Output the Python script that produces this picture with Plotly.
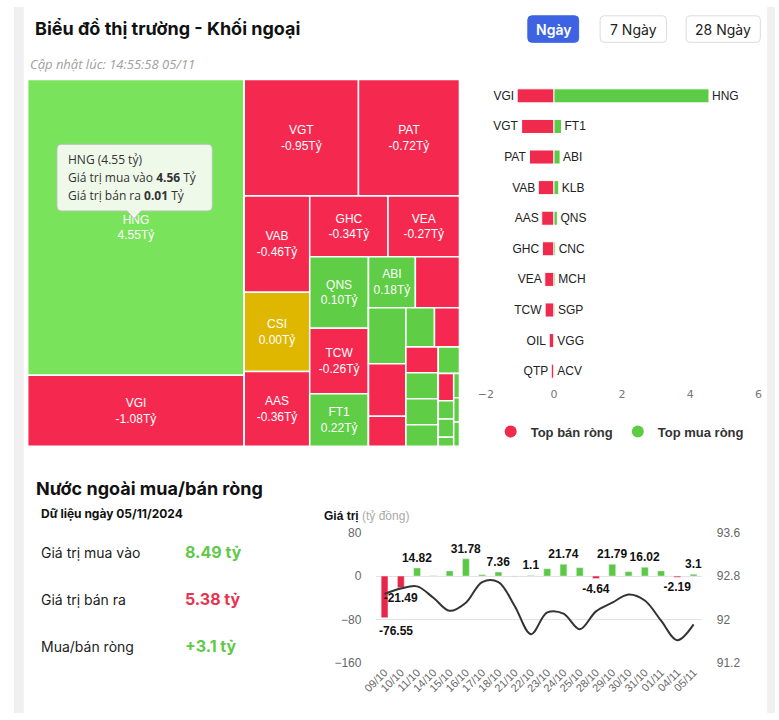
import plotly.graph_objects as go

W, H = 779, 720
def fx(p): return p / W
def fy(p): return 1 - p / H

# ---------------- data: treemap (size = traded value, net = net value) ----------------
tm_codes = ["HNG", "VGI", "VGT", "PAT", "VAB", "CSI", "AAS", "GHC", "VEA", "QNS", "TCW", "FT1", "ABI",
            "OIL", "KLB", "QTP", "Khác 1", "CNC", "Khác 2", "Khác 3", "MCH", "SGP", "VGG", "ACV",
            "Khác 4", "Khác 5", "Khác 6", "Khác 7", "Khác 8", "Khác 9", "Khác 10"]
tm_size = [4.57, 1.10, 0.95, 0.84, 0.45, 0.37, 0.35, 0.34, 0.31, 0.30, 0.275, 0.22, 0.17,
           0.16, 0.15, 0.14, 0.08, 0.08, 0.07, 0.06, 0.06, 0.06, 0.05, 0.04,
           0.03, 0.02, 0.02, 0.01, 0.01, 0.01, 0.01]
tm_net = [4.55, -1.08, -0.95, -0.72, -0.46, 0.00, -0.36, -0.34, -0.27, 0.10, -0.26, 0.22, 0.18,
          -0.14, 0.14, -0.08, -0.05, 0.05, -0.04, -0.03, 0.04, 0.03, 0.02, 0.01,
          -0.02, 0.01, 0.01, 0.01, 0.01, 0.01, 0.01]
# strip (alternating squarified row) each cell belongs to
tm_strip = [1, 1, 2, 2, 3, 3, 3, 4, 4, 5, 5, 5, 6,
            6, 7, 7, 7, 8, 8, 9, 9, 9, 9, 10,
            11, 11, 11, 11, 12, 12, 12]
tm_labeled = ["HNG", "VGI", "VGT", "PAT", "VAB", "CSI", "AAS", "GHC", "VEA", "QNS", "TCW", "FT1", "ABI"]

# ---------------- data: top buy / sell ----------------
sellers = ["VGI", "VGT", "PAT", "VAB", "AAS", "GHC", "VEA", "TCW", "OIL", "QTP"]
sell_vals = [-1.08, -0.95, -0.72, -0.46, -0.36, -0.34, -0.27, -0.26, -0.14, -0.08]
buyers = ["HNG", "FT1", "ABI", "KLB", "QNS", "CNC", "MCH", "SGP", "VGG", "ACV"]
buy_vals = [4.55, 0.22, 0.18, 0.14, 0.10, 0.05, 0.04, 0.03, 0.01, 0.01]

# ---------------- data: history ----------------
dates = ["09/10", "10/10", "11/10", "14/10", "15/10", "16/10", "17/10", "18/10", "21/10", "22/10",
         "23/10", "24/10", "25/10", "28/10", "29/10", "30/10", "31/10", "01/11", "04/11", "05/11"]
net_vals = [-76.55, -21.49, 14.82, 0.4, 9.5, 31.78, 2.5, 7.36, -0.5, 1.1,
            13.5, 21.74, 15.5, -4.64, 21.79, 8.0, 16.02, 9.5, -2.19, 3.1]
net_labels = ["-76.55", "-21.49", "14.82", "", "", "31.78", "", "7.36", "", "1.1",
              "", "21.74", "", "-4.64", "21.79", "", "16.02", "", "-2.19", "3.1"]
index_vals = [92.47, 92.57, 92.61, 92.40, 92.16, 92.31, 92.69, 92.69, 92.25, 91.73,
              92.13, 92.11, 91.82, 92.15, 92.31, 92.46, 92.35, 91.98, 91.62, 91.91]
left_ticks = [-160, -80, 0, 80]
right_ticks = [91.2, 92, 92.8, 93.6]
right_ticktext = ["91.2", "92", "92.8", "93.6"]

GREEN = "#5fcd45"
GREEN_BIG = "#7ae35c"
RED = "#f5294f"
YELLOW = "#e0b700"

def tm_color(v):
    if v > 1:
        return GREEN_BIG
    if v > 0:
        return GREEN
    if v < 0:
        return RED
    return YELLOW

# hierarchy of alternating strips (reproduces the alternating squarified layout)
n_strips = max(tm_strip)
h_ids, h_labels, h_parents, h_values, h_colors, h_text = ["root"], [""], [""], [0], ["white"], [""]
for k in range(1, n_strips):
    par = "root" if k == 1 else f"r{k - 1}"
    for cid in (f"g{k}", f"r{k}"):
        h_ids.append(cid); h_labels.append(""); h_parents.append(par)
        h_values.append(0); h_colors.append("white"); h_text.append("")
for code, size, net, strip in zip(tm_codes, tm_size, tm_net, tm_strip):
    h_ids.append(code); h_labels.append(code)
    h_parents.append(f"g{strip}" if strip < n_strips else f"r{n_strips - 1}")
    h_values.append(size); h_colors.append(tm_color(net))
    h_text.append(f"{code}<br>{net:.2f}Tỷ" if code in tm_labeled else "")

fig = go.Figure()

fig.add_trace(go.Treemap(
    ids=h_ids, labels=h_labels, parents=h_parents, values=h_values, branchvalues="remainder",
    text=h_text, texttemplate="%{text}", textposition="middle center",
    textfont=dict(family="Liberation Sans", size=12, color="white"),
    marker=dict(colors=h_colors, line=dict(color="white", width=1.5),
                pad=dict(t=0, l=0, r=0, b=0)),
    tiling=dict(packing="slice-dice", pad=0),
    pathbar=dict(visible=False), sort=False, hoverinfo="skip",
    domain=dict(x=[fx(14), fx(456)], y=[fy(448), fy(74)]),
))

rows = [f"{s}/{b}" for s, b in zip(sellers, buyers)]
fig.add_trace(go.Bar(
    y=rows, x=sell_vals, orientation="h", xaxis="x", yaxis="y", width=0.46,
    marker=dict(color="#f02a4c", line=dict(color="white", width=1)),
    text=sellers, textposition="outside", cliponaxis=False, constraintext="none",
    textfont=dict(family="Liberation Sans", size=12, color="#222"), showlegend=False, hoverinfo="skip"))
fig.add_trace(go.Bar(
    y=rows, x=buy_vals, orientation="h", xaxis="x", yaxis="y", width=0.46,
    marker=dict(color="#5ccc46", line=dict(color="white", width=1)),
    text=buyers, textposition="outside", cliponaxis=False, constraintext="none",
    textfont=dict(family="Liberation Sans", size=12, color="#222"), showlegend=False, hoverinfo="skip"))
fig.add_trace(go.Scatter(x=[None], y=[None], xaxis="x", yaxis="y", mode="markers",
                         marker=dict(symbol="circle", size=13, color="#f02a4c"), name="Top bán ròng"))
fig.add_trace(go.Scatter(x=[None], y=[None], xaxis="x", yaxis="y", mode="markers",
                         marker=dict(symbol="circle", size=13, color="#5ccc46"), name="Top mua ròng"))

# the first label is pushed inside the plot area (justified), so it is drawn as an annotation
bar_text = ["" if i == 0 else lab for i, lab in enumerate(net_labels)]
bar_colors = ["#5bc943" if v >= 0 else "#e8264a" for v in net_vals]
fig.add_trace(go.Bar(
    x=dates, y=net_vals, xaxis="x3", yaxis="y3", width=0.42,
    marker=dict(color=bar_colors), text=bar_text, textposition="outside", cliponaxis=False,
    constraintext="none", textangle=0,
    textfont=dict(family="Liberation Sans", size=12, color="#111", weight="bold"),
    showlegend=False, hoverinfo="skip"))
fig.add_trace(go.Scatter(
    x=dates, y=index_vals, xaxis="x3", yaxis="y4", mode="lines",
    line=dict(color="#333333", width=2, shape="spline", smoothing=1.0),
    showlegend=False, hoverinfo="skip"))

# ---------------- decorations ----------------
def rrect(x0, y0, x1, y1, r, pointer=None):
    X = lambda v: f"{v / W:.5f}"
    Y = lambda v: f"{1 - v / H:.5f}"
    p = f"M {X(x0 + r)},{Y(y0)} L {X(x1 - r)},{Y(y0)} Q {X(x1)},{Y(y0)} {X(x1)},{Y(y0 + r)} "
    p += f"L {X(x1)},{Y(y1 - r)} Q {X(x1)},{Y(y1)} {X(x1 - r)},{Y(y1)} "
    if pointer is not None:
        p += f"L {X(pointer + 7)},{Y(y1)} L {X(pointer)},{Y(y1 + 8)} L {X(pointer - 7)},{Y(y1)} "
    p += f"L {X(x0 + r)},{Y(y1)} Q {X(x0)},{Y(y1)} {X(x0)},{Y(y1 - r)} "
    p += f"L {X(x0)},{Y(y0 + r)} Q {X(x0)},{Y(y0)} {X(x0 + r)},{Y(y0)} Z"
    return p

shapes = [
    dict(type="rect", xref="paper", yref="paper", x0=0, x1=fx(10), y0=0, y1=1,
         fillcolor="#f0f0f0", line=dict(width=0), layer="below"),
    dict(type="rect", xref="paper", yref="paper", x0=fx(771), x1=1, y0=0, y1=1,
         fillcolor="#f0f0f0", line=dict(width=0), layer="below"),
    dict(type="path", xref="paper", yref="paper", path=rrect(526, 9, 578, 36, 4),
         fillcolor="#3e63e2", line=dict(color="#3e63e2", width=1)),
    dict(type="path", xref="paper", yref="paper", path=rrect(600, 9, 668, 36, 4),
         fillcolor="white", line=dict(color="#dcdcdc", width=1)),
    dict(type="path", xref="paper", yref="paper", path=rrect(688, 9, 764, 36, 4),
         fillcolor="white", line=dict(color="#dcdcdc", width=1)),
    dict(type="path", xref="paper", yref="paper", path=rrect(44, 140, 203, 208, 5, pointer=123),
         fillcolor="#eef9ea", line=dict(color="#b9c4b6", width=1), layer="above"),
]

def ann(text, x, y, size=12, color="#222", family="Inter", xanchor="left", yanchor="middle", weight=None):
    f = dict(size=size, color=color, family=family)
    if weight:
        f["weight"] = weight
    return dict(text=text, x=fx(x), y=fy(y), xref="paper", yref="paper", showarrow=False,
                xanchor=xanchor, yanchor=yanchor, font=f)

annotations = [
    ann("<b>Biểu đồ thị trường - Khối ngoại</b>", 19, 22, size=18, color="#111"),
    ann("<i>Cập nhật lúc: 14:55:58 05/11</i>", 14, 58, size=13, color="#a0a0a0", family="Open Sans"),
    ann("Ngày", 552, 23, size=14, color="white", xanchor="center", weight=600),
    ann("7 Ngày", 634, 23, size=14, color="#222", xanchor="center"),
    ann("28 Ngày", 726, 23, size=14, color="#222", xanchor="center"),
    ann("HNG (4.55 tỷ)", 53, 156, size=12, color="#333", family="Open Sans"),
    ann("Giá trị mua vào <b>4.56</b> Tỷ", 53, 174, size=12, color="#333", family="Open Sans"),
    ann("Giá trị bán ra <b>0.01</b> Tỷ", 53, 192, size=12, color="#333", family="Open Sans"),
    ann("<b>Nước ngoài mua/bán ròng</b>", 20, 491, size=18, color="#111"),
    ann("<b>Dữ liệu ngày 05/11/2024</b>", 26, 517, size=12, color="#111"),
    ann("Giá trị mua vào", 26, 556, size=14, color="#222"),
    ann("<b>8.49 tỷ</b>", 173, 556, size=16, color="#62c84a"),
    ann("Giá trị bán ra", 26, 604, size=14, color="#222"),
    ann("<b>5.38 tỷ</b>", 173, 604, size=16, color="#e8334f"),
    ann("Mua/bán ròng", 26, 652, size=14, color="#222"),
    ann("<b>+3.1 tỷ</b>", 173, 652, size=16, color="#62c84a"),
    ann("<b>Giá trị</b> <span style='color:#aaaaaa'>(tỷ đồng)</span>", 315, 519, size=12,
        color="#111", family="Liberation Sans"),
    dict(text=f"<b>{net_labels[0]}</b>", x=dates[0], y=net_vals[0], xref="x3", yref="y3",
         showarrow=False, xanchor="left", yanchor="top", xshift=-8, yshift=-4,
         font=dict(size=12, color="#111", family="Liberation Sans")),
]

fig.update_layout(
    width=W, height=H, margin=dict(l=0, r=0, t=0, b=0),
    paper_bgcolor="white", plot_bgcolor="white",
    font=dict(family="Liberation Sans", color="#333"),
    barmode="relative", bargap=0.5,
    shapes=shapes, annotations=annotations,
    showlegend=True,
    legend=dict(orientation="h", x=fx(620), xanchor="center", y=fy(433), yanchor="middle",
                font=dict(size=13, family="Liberation Sans", color="#333", weight="bold"),
                itemsizing="constant", bgcolor="rgba(0,0,0,0)"),
    xaxis=dict(domain=[fx(483), fx(762)], range=[-2, 6], tickvals=[-2, 0, 2, 4, 6], anchor="y",
               showgrid=False, zeroline=False, showline=False, ticks="",
               tickfont=dict(size=11, color="#777", family="DejaVu Sans")),
    yaxis=dict(domain=[fy(387), fy(75)], anchor="x", autorange="reversed", showticklabels=False,
               showgrid=False, zeroline=False, showline=False, ticks=""),
    xaxis3=dict(domain=[fx(371), fx(704)], anchor="y3", type="category", tickangle=-45,
                showgrid=False, zeroline=False, showline=False, ticks="",
                tickfont=dict(size=11, color="#666", family="Liberation Sans")),
    yaxis3=dict(domain=[fy(669), fy(536)], anchor="x3", range=[-160, 80], tickvals=left_ticks,
                gridcolor="#e3e3e3", zeroline=False, showline=False, ticks="", ticklabelstandoff=14,
                tickfont=dict(size=12, color="#666", family="Liberation Sans")),
    yaxis4=dict(overlaying="y3", anchor="x3", side="right", range=[91.2, 93.6],
                tickvals=right_ticks, ticktext=right_ticktext, showgrid=False, zeroline=False,
                showline=False, ticks="", ticklabelstandoff=14,
                tickfont=dict(size=12, color="#666", family="Liberation Sans")),
)

fig.write_html(
    "out.html",
    config={"displayModeBar": False},
    post_script=("document.documentElement.style.overflow='hidden';"
                 "document.body.style.margin='0px';document.body.style.overflow='hidden';"),
)
